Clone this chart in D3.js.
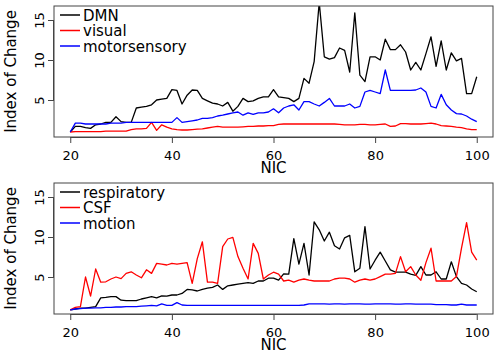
<!DOCTYPE html>
<html>
<head>
<meta charset="utf-8">
<script src="https://cdn.jsdelivr.net/npm/d3@7"></script>
<style>
  body { margin: 0; background: #fff; }
  svg { font-family: "DejaVu Sans", sans-serif; }
</style>
</head>
<body>
<svg width="496" height="354"></svg>
<script>
// data (NIC 20..100)
const nic = [20,21,22,23,24,25,26,27,28,29,30,31,32,33,34,35,36,37,38,39,
  40,41,42,43,44,45,46,47,48,49,50,51,52,53,54,55,56,57,58,59,
  60,61,62,63,64,65,66,67,68,69,70,71,72,73,74,75,76,77,78,79,
  80,81,82,83,84,85,86,87,88,89,90,91,92,93,94,95,96,97,98,99,100];

const dmn = [1.0,1.7,1.7,1.55,1.45,1.9,2.0,2.2,2.2,2.9,
  2.3,2.2,2.2,4.0,4.1,4.2,4.4,5.0,5.1,5.2,
  6.3,6.2,4.5,5.6,6.25,6.2,5.2,4.9,4.6,4.5,
  4.25,4.7,3.6,4.2,5.2,4.8,4.9,5.2,5.4,5.4,
  6.3,5.4,5.3,5.2,4.8,5.2,7.7,7.1,9.8,17.2,
  10.4,10.1,10.3,11.5,11.2,8.5,15.9,8.1,7.3,10.4,
  10.4,10.0,12.6,11.3,11.3,11.9,11.0,8.75,9.7,8.75,
  10.8,12.9,9.2,12.4,8.75,10.9,9.9,10.2,5.8,5.8,
  7.9];
const visual = [1.0,1.05,1.05,1.05,1.05,1.05,1.05,1.1,1.1,1.1,
  1.1,1.1,1.3,1.4,1.4,1.45,2.2,1.2,1.9,1.6,
  1.4,1.3,1.25,1.25,1.3,1.35,1.4,1.5,1.6,1.7,
  1.6,1.6,1.6,1.6,1.65,1.7,1.7,1.75,1.75,1.8,
  1.8,1.95,2.0,2.0,2.0,2.0,2.0,2.0,2.0,2.0,
  2.0,2.0,2.0,1.95,1.9,1.9,1.9,1.95,1.95,1.9,
  1.9,1.95,2.0,1.7,1.75,2.05,2.05,2.0,2.0,2.0,
  2.05,2.1,2.0,1.8,1.75,1.7,1.6,1.55,1.4,1.3,
  1.3];
const motorsensory = [1.0,2.1,2.1,2.0,2.0,2.0,2.0,2.0,2.1,2.1,
  2.1,2.2,2.2,2.2,2.2,2.2,2.2,2.2,2.2,2.2,
  2.2,2.8,2.2,2.3,2.4,2.5,2.7,2.7,2.8,3.0,
  3.1,3.25,3.4,3.5,3.1,3.4,3.2,3.4,3.4,3.5,
  3.9,3.4,4.0,4.25,4.4,3.75,4.8,4.8,4.5,4.25,
  4.7,5.2,4.25,4.25,4.25,4.5,4.0,4.2,6.0,6.2,
  6.0,5.8,8.75,6.2,6.2,6.2,6.2,6.2,6.25,6.5,
  6.0,4.2,4.0,5.7,4.4,3.75,3.3,3.25,3.0,2.6,
  2.3];

const respiratory = [0.9,1.0,1.1,1.1,1.2,1.3,2.4,2.45,2.55,2.55,
  2.1,2.05,2.05,2.05,2.25,2.4,2.55,2.4,2.65,2.6,
  2.75,2.75,2.95,3.45,3.4,3.25,3.45,3.6,3.7,4.0,
  3.45,3.9,4.0,4.1,4.2,4.3,4.2,4.5,4.5,4.85,
  4.85,4.6,5.4,5.35,9.8,6.6,9.2,5.25,11.9,10.9,
  9.5,10.6,8.9,8.5,9.9,10.2,5.65,6.1,11.3,6.0,
  7.1,8.1,7.0,5.9,5.6,5.6,5.6,5.35,5.2,6.3,
  5.25,5.25,5.65,4.75,4.75,6.9,5.05,4.2,4.0,3.5,
  3.15];
const csf = [0.9,1.2,1.3,5.0,2.6,6.0,4.35,4.4,4.75,5.0,
  4.8,5.45,5.65,5.25,4.9,5.9,5.45,6.7,6.6,6.5,
  6.7,6.6,6.7,6.8,4.2,7.3,9.4,4.35,4.35,4.2,
  8.8,9.75,9.95,7.55,6.1,4.75,9.2,7.95,4.75,5.25,
  5.6,5.35,4.5,4.6,4.35,4.6,4.75,4.6,4.5,4.5,
  4.5,4.5,4.75,4.85,4.85,4.75,4.35,4.6,4.75,4.6,
  4.75,5.05,5.35,5.35,5.45,7.55,5.65,6.3,5.25,4.6,
  6.8,8.6,4.5,4.5,4.5,4.5,5.05,8.6,11.8,8.1,
  7.1];
const motion = [0.9,1.0,1.05,1.1,1.1,1.15,1.15,1.2,1.2,1.25,
  1.25,1.3,1.3,1.3,1.35,1.4,1.45,1.4,1.65,1.45,
  1.45,1.8,1.5,1.45,1.45,1.45,1.45,1.45,1.45,1.45,
  1.45,1.45,1.45,1.45,1.45,1.45,1.45,1.45,1.45,1.45,
  1.45,1.45,1.45,1.45,1.45,1.45,1.5,1.65,1.65,1.65,
  1.65,1.6,1.65,1.65,1.6,1.65,1.65,1.65,1.6,1.6,
  1.65,1.65,1.65,1.65,1.6,1.6,1.65,1.65,1.6,1.6,
  1.6,1.6,1.55,1.55,1.55,1.5,1.5,1.6,1.5,1.5,
  1.5];

const xTicks = [20, 40, 60, 80, 100];
const yTicks = [5, 10, 15];

const panels = [
  {top: 6, series: [["DMN", dmn, "#000"], ["visual", visual, "#f00"], ["motorsensory", motorsensory, "#00f"]]},
  {top: 183, series: [["respiratory", respiratory, "#000"], ["CSF", csf, "#f00"], ["motion", motion, "#00f"]]}
];

const svg = d3.select("svg");
const left = 54, right = 493, boxH = 131;

const xScale = d3.scaleLinear().domain([16.8, 103.2]).range([left, right]);

panels.forEach((p, pi) => {
  const bottom = p.top + boxH;
  const yScale = d3.scaleLinear().domain([0.375, 16.75]).range([bottom, p.top]);

  svg.append("clipPath").attr("id", "clip" + pi)
    .append("rect")
      .attr("x", left).attr("y", p.top)
      .attr("width", right - left).attr("height", boxH);

  //lines
  const line = d3.line()
    .x((d, i) => xScale(nic[i]))
    .y(d => yScale(d));

  const g = svg.append("g").attr("clip-path", `url(#clip${pi})`);
  p.series.forEach(s => {
    g.append("path")
      .datum(s[1])
      .attr("fill", "none")
      .attr("stroke", s[2])
      .attr("stroke-width", 1.3)
      .attr("stroke-linejoin", "round")
      .attr("d", line);
  });

  //box
  svg.append("rect")
    .attr("x", left).attr("y", p.top)
    .attr("width", right - left).attr("height", boxH)
    .attr("fill", "none").attr("stroke", "#444").attr("stroke-width", 1);

  //x axis
  const xAxis = svg.append("g")
    .attr("transform", `translate(0, ${bottom})`)
    .call(d3.axisBottom(xScale).tickValues(xTicks).tickSize(6).tickSizeOuter(0));
  xAxis.select(".domain").attr("d", `M${xScale(20)},0.5H${xScale(100)}`).attr("stroke", "#444");
  xAxis.selectAll(".tick line").attr("stroke", "#444");
  xAxis.selectAll("text")
    .attr("y", 23).attr("dy", 0)
    .attr("fill", "#000")
    .style("font-size", "13px")
    .style("font-family", "DejaVu Sans");

  //y axis
  const yAxis = svg.append("g")
    .attr("transform", `translate(${left}, 0)`)
    .call(d3.axisLeft(yScale).tickValues(yTicks).tickSize(6).tickSizeOuter(0));
  yAxis.select(".domain").attr("d", `M-0.5,${yScale(5)}V${yScale(15)}`).attr("stroke", "#444");
  yAxis.selectAll(".tick line").attr("stroke", "#444");
  yAxis.selectAll("text")
    .attr("x", 0).attr("y", -10).attr("dy", 0)
    .attr("text-anchor", "middle")
    .attr("transform", "rotate(-90)")
    .attr("fill", "#000")
    .style("font-size", "13px")
    .style("font-family", "DejaVu Sans");

  //axis titles
  svg.append("text")
    .attr("transform", `translate(16, ${p.top + boxH / 2}) rotate(-90)`)
    .attr("text-anchor", "middle")
    .style("font-size", "15px")
    .text("Index of Change");

  svg.append("text")
    .attr("x", (left + right) / 2)
    .attr("y", bottom + 36)
    .attr("text-anchor", "middle")
    .style("font-size", "15px")
    .text("NIC");

  //legend
  p.series.forEach((s, i) => {
    const ly = p.top + 9 + i * 15.5;
    svg.append("line")
      .attr("x1", 60).attr("x2", 80)
      .attr("y1", ly).attr("y2", ly)
      .attr("stroke", s[2]).attr("stroke-width", 1.5);
    svg.append("text")
      .attr("x", 83).attr("y", ly + 5.5)
      .style("font-size", "15px")
      .text(s[0]);
  });
});
</script>
</body>
</html>
